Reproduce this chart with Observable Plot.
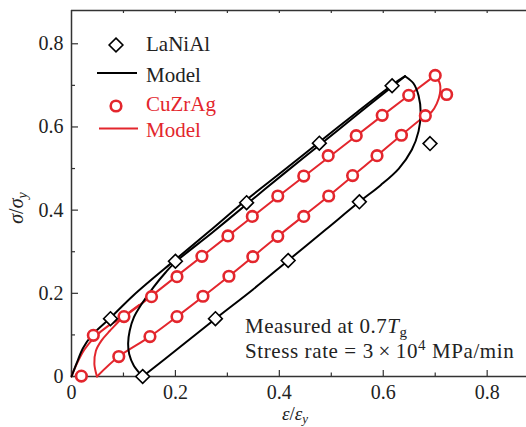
<!DOCTYPE html>
<html><head><meta charset="utf-8">
<script src="https://cdn.jsdelivr.net/npm/d3@7"></script>
<script src="https://cdn.jsdelivr.net/npm/@observablehq/plot@0.6"></script>
<style>body{margin:0;background:#fff}#chart{width:526px;height:427px}</style>
</head><body><div id="chart"></div>
<script>
// ---- data ----
const lanX = [0.075, 0.200, 0.337, 0.477, 0.617, 0.690, 0.554, 0.417, 0.277, 0.137];
const lanY = [0.139, 0.277, 0.418, 0.561, 0.699, 0.560, 0.420, 0.279, 0.139, 0.000];

const cuX = [0.019, 0.042, 0.101, 0.154, 0.203, 0.251, 0.301, 0.348, 0.397, 0.447, 0.494, 0.548, 0.598, 0.649, 0.700, 0.722,
             0.681, 0.635, 0.588, 0.541, 0.495, 0.447, 0.397, 0.349, 0.303, 0.253, 0.203, 0.151, 0.091];
const cuY = [0.001, 0.099, 0.144, 0.192, 0.240, 0.289, 0.338, 0.385, 0.434, 0.482, 0.531, 0.579, 0.628, 0.676, 0.724, 0.678,
             0.627, 0.580, 0.531, 0.483, 0.434, 0.385, 0.337, 0.288, 0.241, 0.193, 0.144, 0.096, 0.048];

// black model (LaNiAl): loading, unloading, reloading
const bLoadX = [0, 0.010, 0.022, 0.040, 0.075, 0.120, 0.200, 0.270, 0.335, 0.410, 0.477, 0.550, 0.617, 0.642];
const bLoadY = [0, 0.032, 0.068, 0.100, 0.141, 0.196, 0.281, 0.354, 0.423, 0.497, 0.564, 0.636, 0.701, 0.722];
const bUnX = [0.642, 0.658, 0.668, 0.672, 0.668, 0.655, 0.630, 0.595, 0.554, 0.490, 0.417, 0.350, 0.277, 0.210, 0.137];
const bUnY = [0.722, 0.705, 0.675, 0.635, 0.590, 0.545, 0.500, 0.460, 0.420, 0.354, 0.279, 0.210, 0.139, 0.072, 0.000];
const bReX = [0.137, 0.120, 0.111, 0.109, 0.112, 0.120, 0.136, 0.158, 0.181, 0.200, 0.270, 0.337, 0.410, 0.478, 0.550, 0.617, 0.642];
const bReY = [0.000, 0.026, 0.054, 0.080, 0.110, 0.142, 0.176, 0.215, 0.250, 0.275, 0.345, 0.414, 0.489, 0.557, 0.630, 0.697, 0.722];

// red model (CuZrAg)
const rLoadX = [0, 0.010, 0.025, 0.045, 0.070, 0.101, 0.200, 0.300, 0.400, 0.500, 0.600, 0.700];
const rLoadY = [0, 0.030, 0.065, 0.095, 0.121, 0.144, 0.239, 0.337, 0.435, 0.532, 0.629, 0.724];
const rUnX = [0.700, 0.709, 0.709, 0.703, 0.693, 0.681, 0.588, 0.495, 0.397, 0.303, 0.203, 0.151, 0.091, 0.049];
const rUnY = [0.724, 0.704, 0.680, 0.656, 0.636, 0.627, 0.531, 0.434, 0.337, 0.241, 0.144, 0.096, 0.048, 0.000];
const rReX = [0.049, 0.044, 0.047, 0.058, 0.074, 0.099, 0.130];
const rReY = [0.000, 0.030, 0.062, 0.087, 0.110, 0.142, 0.172];

const xMajor = [0, 0.2, 0.4, 0.6, 0.8];
const xMinor = [0.1, 0.3, 0.5, 0.7];
const yMajor = [0, 0.2, 0.4, 0.6, 0.8];
const yMinor = [0.1, 0.3, 0.5, 0.7];
const xDomain = [0, 0.8757];
const yDomain = [0, 0.880];

const RED = "#e3262d";
const AX = "#333";
const FONT = "'Liberation Serif', 'DejaVu Serif', serif";

const toPts = (xs, ys, seg) => xs.map((x, i) => ({x, y: ys[i], seg}));
const black = [...toPts(bLoadX, bLoadY, "a"), ...toPts(bUnX, bUnY, "b"), ...toPts(bReX, bReY, "c")];
const red = [...toPts(rLoadX, rLoadY, "a"), ...toPts(rUnX, rUnY, "b"), ...toPts(rReX, rReY, "c")];
const lan = toPts(lanX, lanY, "d");
const cu = toPts(cuX, cuY, "d");

const W = 526, H = 427, mL = 71, mR = 0, mT = 10, mB = 51;
const fh = H - mT - mB, fw = W - mL - mR;
const fmt = d => d === 0 ? "0" : d.toFixed(1);

const svg = Plot.plot({
  width: W, height: H,
  marginLeft: mL, marginRight: mR, marginTop: mT, marginBottom: mB,
  x: {domain: xDomain},
  y: {domain: yDomain},
  style: {fontFamily: FONT, fontSize: "20px", background: "white", color: "#222"},
  marks: [
    // spines
    Plot.ruleY([yDomain[0]], {stroke: AX, strokeWidth: 1.5}),
    Plot.ruleY([yDomain[1]], {stroke: AX, strokeWidth: 1.5}),
    Plot.ruleX([xDomain[0]], {stroke: AX, strokeWidth: 1.5}),
    // inward ticks
    Plot.ruleX(xMajor, {x: d => d, insetTop: fh - 6, stroke: AX, strokeWidth: 1.2}),
    Plot.ruleX(xMinor, {x: d => d, insetTop: fh - 3.5, stroke: AX, strokeWidth: 1.2}),
    Plot.ruleX([...xMajor.slice(1), ...xMinor], {x: d => d, insetBottom: fh - 3, stroke: AX, strokeWidth: 1.2}),
    Plot.ruleY(yMajor, {y: d => d, insetRight: fw - 7, stroke: AX, strokeWidth: 1.2}),
    Plot.ruleY(yMinor, {y: d => d, insetRight: fw - 4, stroke: AX, strokeWidth: 1.2}),
    Plot.axisX(xMajor, {tickSize: 0, tickPadding: 8, tickFormat: fmt, fontSize: 20, fontFamily: FONT, fill: "#222", label: null}),
    Plot.axisY(yMajor, {tickSize: 0, tickPadding: 8, tickFormat: fmt, fontSize: 20, fontFamily: FONT, fill: "#222", label: null}),
    // model curves
    Plot.line(red, {x: "x", y: "y", z: "seg", stroke: RED, strokeWidth: 2, curve: "catmull-rom"}),
    Plot.line(black, {x: "x", y: "y", z: "seg", stroke: "black", strokeWidth: 2, curve: "catmull-rom"}),
    // data points
    Plot.dot(cu, {x: "x", y: "y", r: 5.3, stroke: RED, strokeWidth: 2.6, fill: "white"}),
    Plot.dot(lan, {x: "x", y: "y", symbol: "diamond2", r: 6.2, stroke: "black", strokeWidth: 1.6, fill: "white"})
  ]
});
document.getElementById("chart").appendChild(svg);

// ---- legend, annotation and axis titles ----
const s = d3.select(svg);
s.selectAll("text").style("font-family", FONT).style("font-variant-numeric", "normal");
const g = s.append("g").attr("text-anchor", "start")
  .style("font-family", FONT).style("font-size", "21px");
const diamond = d3.symbol(d3.symbolDiamond2, Math.PI * 6.2 * 6.2)();
g.append("path").attr("d", diamond).attr("transform", "translate(116,45)")
  .attr("fill", "white").attr("stroke", "black").attr("stroke-width", 1.6);
g.append("line").attr("x1", 97).attr("x2", 137).attr("y1", 73).attr("y2", 73)
  .attr("stroke", "black").attr("stroke-width", 2);
g.append("circle").attr("cx", 116).attr("cy", 106).attr("r", 5.3)
  .attr("fill", "white").attr("stroke", RED).attr("stroke-width", 2.6);
g.append("line").attr("x1", 99).attr("x2", 138).attr("y1", 128.5).attr("y2", 128.5)
  .attr("stroke", RED).attr("stroke-width", 2);
g.append("text").attr("x", 146).attr("y", 51).attr("fill", "#222").text("LaNiAl");
g.append("text").attr("x", 146).attr("y", 81.5).attr("fill", "#222").text("Model");
g.append("text").attr("x", 146).attr("y", 111).attr("fill", RED).text("CuZrAg");
g.append("text").attr("x", 146).attr("y", 136.5).attr("fill", RED).text("Model");

const t1 = g.append("text").attr("x", 245).attr("y", 333).attr("fill", "#222").style("letter-spacing", "0.5px");
t1.append("tspan").text("Measured at 0.7");
t1.append("tspan").style("font-style", "italic").text("T");
t1.append("tspan").style("font-size", "15px").attr("dy", 4).text("g");
const t2 = g.append("text").attr("x", 245).attr("y", 358).attr("fill", "#222").style("letter-spacing", "0.6px");
t2.append("tspan").text("Stress rate = 3\u2009×\u200910");
t2.append("tspan").style("font-size", "15px").attr("dy", -8).text("4");
t2.append("tspan").attr("dy", 8).text(" MPa/min");

const xl = g.append("text").attr("x", 295).attr("y", 420).attr("text-anchor", "middle").attr("fill", "#222")
  .style("font-size", "19px");
xl.append("tspan").style("font-style", "italic").text("ε");
xl.append("tspan").text("/");
xl.append("tspan").style("font-style", "italic").text("ε");
xl.append("tspan").style("font-style", "italic").style("font-size", "13px").attr("dy", 3).text("y");

const yl = g.append("text").attr("transform", "translate(23,208) rotate(-90)").attr("text-anchor", "middle").attr("fill", "#222")
  .style("font-size", "20px");
yl.append("tspan").style("font-style", "italic").text("σ");
yl.append("tspan").text("/");
yl.append("tspan").style("font-style", "italic").text("σ");
yl.append("tspan").style("font-style", "italic").style("font-size", "14px").attr("dy", 4).text("y");
</script>
</body></html>
